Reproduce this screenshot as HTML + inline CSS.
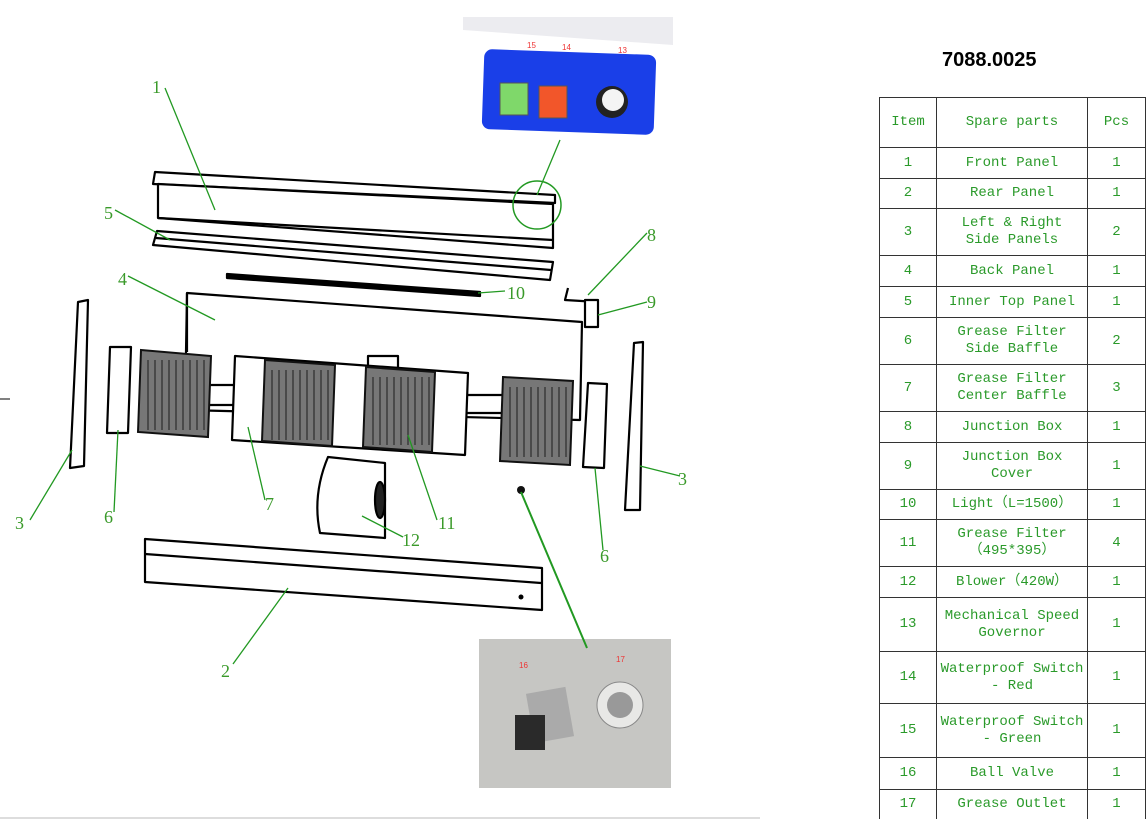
<!DOCTYPE html>
<html><head><meta charset="utf-8"><style>
html,body{margin:0;padding:0;background:#fff;width:1146px;height:819px;overflow:hidden;position:relative;font-family:"Liberation Sans",sans-serif}
table{position:absolute;left:879px;top:97px;border-collapse:collapse;font-family:"Liberation Mono","Noto Sans CJK SC",monospace;font-size:14px;color:#2a9a2a;table-layout:fixed}
td{border:1.5px solid #333;text-align:center;padding:0;line-height:17px;white-space:nowrap;overflow:visible}
.title{position:absolute;left:942px;top:49px;font-weight:bold;font-size:20px;color:#000}
</style></head><body>
<div class="title">7088.0025</div>
<svg width="860" height="819" style="position:absolute;left:0;top:0" xmlns="http://www.w3.org/2000/svg">
<g fill="none" stroke="#000" stroke-width="2.2" stroke-linejoin="round">
<polygon points="155,172 555,195 555,203 153,184" fill="#fff"/>
<polygon points="158,184 553,204 553,248 158,218" fill="#fff"/>
<line x1="158" y1="218" x2="553" y2="240"/>
<polygon points="157,231 553,262 550,280 153,245" fill="#fff"/>
<line x1="156" y1="238" x2="551" y2="270"/>
<polygon points="227,274 480,292 480,296 227,278" fill="#000"/>
<polygon points="187,293 582,322 580,420 185,410" fill="#fff"/>
<line x1="187" y1="293" x2="187" y2="352"/>
<rect x="205" y="385" width="30" height="20"/>
<rect x="465" y="395" width="40" height="18"/>
<rect x="368" y="356" width="30" height="12" fill="#fff"/>
<polygon points="235,356 468,373 465,455 232,440" fill="#fff"/>
<polyline points="568,288 565,300 598,302"/>
<polygon points="585,300 598,300 598,327 585,327" fill="#fff"/>
<polygon points="78,302 88,300 84,466 70,468" fill="#fff"/>
<polygon points="634,343 643,342 640,510 625,510" fill="#fff"/>
<polygon points="110,347 131,347 128,433 107,433" fill="#fff"/>
<polygon points="588,383 607,384 604,468 583,467" fill="#fff"/>
<path d="M328,457 L385,463 L385,538 L320,533 Q312,495 328,457 Z" fill="#fff"/>
<ellipse cx="380" cy="500" rx="5" ry="18" fill="#222"/>
<polygon points="145,539 542,568 542,610 145,582" fill="#fff"/>
<line x1="145" y1="554" x2="541" y2="583"/>
</g>
<circle cx="521" cy="490" r="4" fill="#111"/>
<circle cx="521" cy="597" r="2.5" fill="#000"/>
<g fill="#777" stroke="#111" stroke-width="2">
<polygon points="141,350 211,356 208,437 138,432"/>
<polygon points="265,360 335,365 332,446 262,441"/>
<polygon points="366,367 435,372 432,452 363,447"/>
<polygon points="503,377 573,381 570,465 500,461"/>
</g>
<g stroke="#333" stroke-width="1.3">
<path d="M148,360v70M155,360v70M162,360v70M169,360v70M176,360v70M183,360v70M190,360v70M197,360v70M204,360v70"/>
<path d="M272,370v70M279,370v70M286,370v70M293,370v70M300,370v70M307,370v70M314,370v70M321,370v70M328,370v70"/>
<path d="M373,377v68M380,377v68M387,377v68M394,377v68M401,377v68M408,377v68M415,377v68M422,377v68M429,377v68"/>
<path d="M510,387v70M517,387v70M524,387v70M531,387v70M538,387v70M545,387v70M552,387v70M559,387v70M566,387v70"/>
</g>
<rect x="463" y="17" width="210" height="126" fill="#ececf0"/>
<polygon points="463,30 673,45 673,143 463,143" fill="#fff"/>
<rect x="483" y="52" width="172" height="80" rx="8" fill="#1a3fe8" transform="rotate(2 569 92)"/>
<rect x="500" y="83" width="28" height="32" fill="#7fd86a" stroke="#555"/>
<rect x="539" y="86" width="28" height="32" fill="#f2562a" stroke="#555"/>
<circle cx="612" cy="102" r="16" fill="#222"/><circle cx="613" cy="100" r="11" fill="#f4f4f4"/>
<text x="527" y="48" font-size="8" fill="#e33">15</text><text x="562" y="50" font-size="8" fill="#e33">14</text><text x="618" y="53" font-size="8" fill="#e33">13</text>
<rect x="479" y="639" width="192" height="149" fill="#c6c6c3"/>
<rect x="530" y="690" width="40" height="50" fill="#aaa" transform="rotate(-10 550 715)"/>
<rect x="515" y="715" width="30" height="35" fill="#2a2a2a"/>
<circle cx="620" cy="705" r="23" fill="#e8e8e6" stroke="#888"/><circle cx="620" cy="705" r="13" fill="#999"/>
<text x="519" y="668" font-size="8" fill="#e33">16</text><text x="616" y="662" font-size="8" fill="#e33">17</text>
<g stroke="#229922" stroke-width="1.3" fill="none">
<circle cx="537" cy="205" r="24" stroke-width="1.5"/>
<line x1="537" y1="195" x2="560" y2="140"/>
<line x1="165" y1="88" x2="215" y2="210"/>
<line x1="115" y1="210" x2="170" y2="240"/>
<line x1="128" y1="276" x2="215" y2="320"/>
<line x1="505" y1="291" x2="478" y2="293"/>
<line x1="647" y1="233" x2="588" y2="295"/>
<line x1="647" y1="302" x2="598" y2="315"/>
<line x1="30" y1="520" x2="72" y2="450"/>
<line x1="114" y1="512" x2="118" y2="430"/>
<line x1="265" y1="500" x2="248" y2="427"/>
<line x1="437" y1="520" x2="408" y2="435"/>
<line x1="403" y1="537" x2="362" y2="516"/>
<line x1="680" y1="476" x2="640" y2="466"/>
<line x1="603" y1="550" x2="595" y2="468"/>
<line x1="233" y1="664" x2="288" y2="588"/>
<line x1="521" y1="492" x2="587" y2="648" stroke-width="2"/>
</g>
<g font-family="Liberation Serif,serif" font-size="18" fill="#3a9a2a">
<text x="152" y="93">1</text><text x="104" y="219">5</text><text x="118" y="285">4</text>
<text x="507" y="299">10</text><text x="647" y="241">8</text><text x="647" y="308">9</text>
<text x="15" y="529">3</text><text x="104" y="523">6</text><text x="265" y="510">7</text>
<text x="438" y="529">11</text><text x="402" y="546">12</text><text x="678" y="485">3</text>
<text x="600" y="562">6</text><text x="221" y="677">2</text>
</g>
<line x1="0" y1="399" x2="10" y2="399" stroke="#000"/>
<line x1="0" y1="818" x2="760" y2="818" stroke="#bbb"/>
</svg>
<table>
<colgroup><col style="width:57px"><col style="width:151px"><col style="width:58px"></colgroup>
<tr style="height:50px"><td>Item</td><td>Spare parts</td><td>Pcs</td></tr>
<tr style="height:31px"><td>1</td><td>Front Panel</td><td>1</td></tr>
<tr style="height:30px"><td>2</td><td>Rear Panel</td><td>1</td></tr>
<tr style="height:47px"><td>3</td><td>Left &amp; Right<br> Side Panels</td><td>2</td></tr>
<tr style="height:31px"><td>4</td><td>Back Panel</td><td>1</td></tr>
<tr style="height:31px"><td>5</td><td>Inner Top Panel</td><td>1</td></tr>
<tr style="height:47px"><td>6</td><td>Grease Filter<br>Side Baffle</td><td>2</td></tr>
<tr style="height:47px"><td>7</td><td>Grease Filter<br>Center Baffle</td><td>3</td></tr>
<tr style="height:31px"><td>8</td><td>Junction Box</td><td>1</td></tr>
<tr style="height:47px"><td>9</td><td>Junction Box<br>Cover</td><td>1</td></tr>
<tr style="height:30px"><td>10</td><td>Light（L=1500）</td><td>1</td></tr>
<tr style="height:47px"><td>11</td><td>Grease Filter<br>（495*395）</td><td>4</td></tr>
<tr style="height:31px"><td>12</td><td>Blower（420W）</td><td>1</td></tr>
<tr style="height:54px"><td>13</td><td>Mechanical Speed<br>Governor</td><td>1</td></tr>
<tr style="height:52px"><td>14</td><td>Waterproof Switch<br>- Red</td><td>1</td></tr>
<tr style="height:54px"><td>15</td><td>Waterproof Switch<br>- Green</td><td>1</td></tr>
<tr style="height:32px"><td>16</td><td>Ball Valve</td><td>1</td></tr>
<tr style="height:30px"><td>17</td><td>Grease Outlet</td><td>1</td></tr>
</table>
</body></html>
